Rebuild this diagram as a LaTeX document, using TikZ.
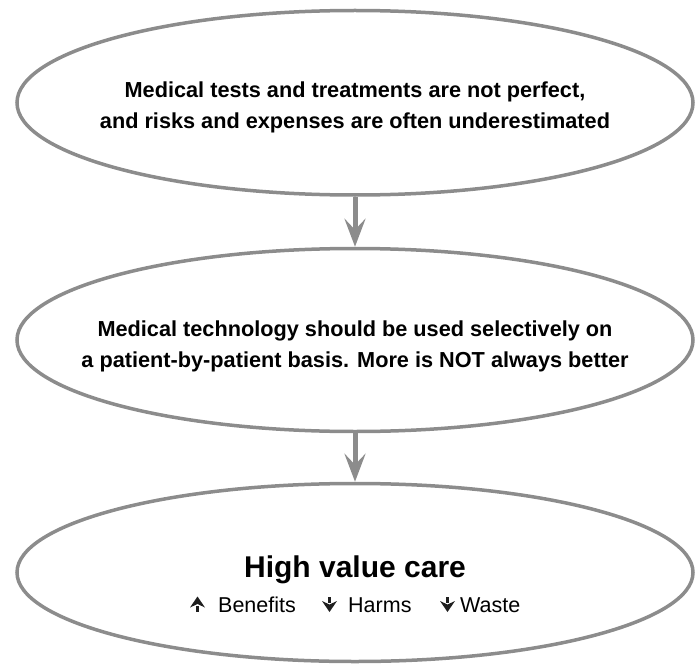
\documentclass[tikz,border=0pt]{standalone}
\usepackage{fontspec}
\setmainfont{Liberation Sans}
\usetikzlibrary{shapes.geometric,arrows.meta}

\definecolor{rim}{gray}{0.55}
\definecolor{glyph}{gray}{0.12}

\begin{document}
\begin{tikzpicture}[
  x=1pt, y=-1pt,
  oval/.style={ellipse, draw=rim, line width=3.5pt, minimum width=676pt, inner sep=0pt},
  msg/.style={align=center, font=\bfseries\fontsize{21.7}{31.5}\selectfont},
  effect/.style={anchor=base west, inner sep=0pt, font=\fontsize{21.5}{26}\selectfont},
  flow/.style={draw=rim, line width=5pt,
    -{Stealth[length=28pt, width=21pt, inset=11pt, fill=rim]}},
  % small barbed arrows standing on the text baseline
  rise/.pic={
    \fill[glyph] (-1.9,0) rectangle (1.9,-6.5);
    \fill[glyph] (-7.5,-4.5) -- (0,-15.5) -- (7.5,-4.5) -- (0,-8) -- cycle;},
  fall/.pic={
    \fill[glyph] (-1.9,-9) rectangle (1.9,-15.5);
    \fill[glyph] (-7.5,-11) -- (0,0) -- (7.5,-11) -- (0,-7.5) -- cycle;}
]
\useasboundingbox (0,0) rectangle (696,666);

% three stages
\node[oval, minimum height=184.5pt] (top) at (355,102.75) {};
\node[msg] (topText) at (355,107.4)
  {Medical tests and treatments are not perfect,\\
   and risks and expenses are often underestimated};

\node[oval, minimum height=183pt] (mid) at (355,340) {};
\node[msg] (midText) at (355,346.5)
  {Medical technology should be used selectively on\\
   a patient-by-patient basis. More is NOT always better};

\node[oval, minimum height=178pt] (bottom) at (355,572.5) {};
\node[anchor=base, font=\bfseries\fontsize{30}{36}\selectfont] (goal) at (355,577)
  {High value care};

% effects line
\pic at (197.5,612) {rise};
\node[effect] (benefits) at (218,612) {Benefits};
\pic at (329.5,612) {fall};
\node[effect] (harms) at (348,612) {Harms};
\pic at (447.5,612) {fall};
\node[effect] (waste) at (460,612) {Waste};

% connectors
\draw[flow] (top.south) -- (mid.north);
\draw[flow] (mid.south) -- (bottom.north);
\end{tikzpicture}
\end{document}
